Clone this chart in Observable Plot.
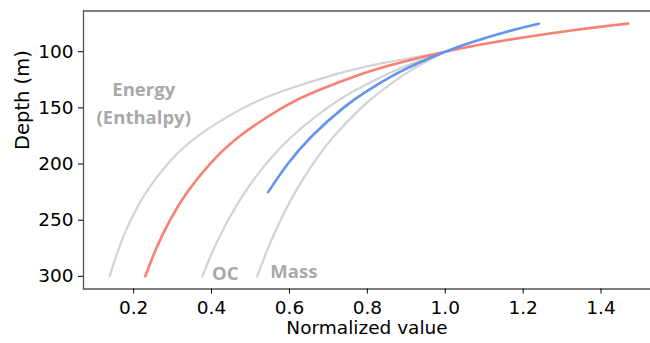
<!DOCTYPE html>
<html>
<head>
<meta charset="utf-8">
<script src="https://cdn.jsdelivr.net/npm/d3@7"></script>
<script src="https://cdn.jsdelivr.net/npm/@observablehq/plot@0.6"></script>
<style>
  html, body { margin: 0; padding: 0; background: #fff; }
  #chart svg { display: block; }
</style>
</head>
<body>
<div id="chart"></div>
<script>
// ---- data ----
const depthsFull = [100, 110, 120, 135, 150, 175, 200, 225, 250, 275, 300];
const energyValues = [1.000, 0.8424, 0.7202, 0.5826, 0.4820, 0.3652, 0.2872, 0.2323, 0.1922, 0.1619, 0.1384];
const ocValues     = [1.000, 0.9187, 0.8502, 0.7656, 0.6971, 0.6077, 0.5396, 0.4859, 0.4424, 0.4064, 0.3762];
const massValues   = [1.000, 0.9444, 0.8964, 0.8352, 0.7841, 0.7148, 0.6598, 0.6147, 0.5771, 0.5450, 0.5173];

const depthsRed = [75, 80, 90, 100, 110, 120, 135, 150, 175, 200, 225, 250, 275, 300];
const redValues = [1.4695, 1.3479, 1.1514, 1.000, 0.8803, 0.7835, 0.6693, 0.5813, 0.4729, 0.3956, 0.3379, 0.2935, 0.2583, 0.2299];

const depthsBlue = [75, 80, 90, 100, 110, 120, 135, 150, 175, 200, 225];
const blueValues = [1.2401, 1.1816, 1.0820, 1.000, 0.9312, 0.8725, 0.7989, 0.7384, 0.6580, 0.5955, 0.5452];

const xTicks = [0.2, 0.4, 0.6, 0.8, 1.0, 1.2, 1.4];
const yTicks = [100, 150, 200, 250, 300];

const labelTexts = ["Energy", "(Enthalpy)", "OC", "Mass"];
const labelX = [0.226, 0.226, 0.401, 0.551];
const labelY = [134.4, 159.4, 298.1, 296.4];
const labelAnchor = ["middle", "middle", "start", "start"];

const xTitle = "Normalized value";
const yTitle = "Depth (m)";

// ---- build tables ----
const toRows = (xs, ds) => xs.map((v, i) => ({value: v, depth: ds[i]}));
const energy = toRows(energyValues, depthsFull);
const oc = toRows(ocValues, depthsFull);
const mass = toRows(massValues, depthsFull);
const red = toRows(redValues, depthsRed);
const blue = toRows(blueValues, depthsBlue);
const labels = labelTexts.map((t, i) => ({text: t, x: labelX[i], y: labelY[i], anchor: labelAnchor[i]}));

const GRAY = "#d3d3d3";
const LABELGRAY = "#a9a9a9";
const SPINE = "#555";
const tickFont = "DejaVu Sans, sans-serif";

const chart = Plot.plot({
  width: 650,
  height: 343,
  marginLeft: 83,
  marginRight: 0,
  marginTop: 10.5,
  marginBottom: 54.5,
  style: {fontFamily: tickFont, background: "#fff"},
  x: {domain: [0.0713, 1.527], label: null},
  y: {domain: [63.75, 311.25], reverse: true, label: null},
  marks: [
    Plot.line(energy, {x: "value", y: "depth", stroke: GRAY, strokeWidth: 2.2, curve: "natural"}),
    Plot.line(oc, {x: "value", y: "depth", stroke: GRAY, strokeWidth: 2.2, curve: "natural"}),
    Plot.line(mass, {x: "value", y: "depth", stroke: GRAY, strokeWidth: 2.2, curve: "natural"}),
    Plot.line(red, {x: "value", y: "depth", stroke: "#fa8072", strokeWidth: 2.6, curve: "natural"}),
    Plot.line(blue, {x: "value", y: "depth", stroke: "#6495ed", strokeWidth: 2.6, curve: "natural"}),
    Plot.text(labels.filter(d => d.anchor === "middle"), {x: "x", y: "y", text: "text", fill: LABELGRAY, fontSize: 18.5, fontWeight: "bold", fontFamily: "Open Sans", textAnchor: "middle"}),
    Plot.text(labels.filter(d => d.anchor === "start"), {x: "x", y: "y", text: "text", fill: LABELGRAY, fontSize: 18.5, fontWeight: "bold", fontFamily: "Open Sans", textAnchor: "start"}),
    Plot.frame({anchor: "top", stroke: SPINE, strokeWidth: 1.3}),
    Plot.frame({anchor: "bottom", stroke: SPINE, strokeWidth: 1.3}),
    Plot.frame({anchor: "left", stroke: SPINE, strokeWidth: 1.3}),
    Plot.axisX({ticks: xTicks, tickFormat: d => d.toFixed(1), tickSize: 5, tickPadding: 7, fontSize: 18.5, stroke: "#000", fill: "#000", label: null}),
    Plot.axisY({ticks: yTicks, tickSize: 5, tickPadding: 5, fontSize: 18.5, stroke: "#000", fill: "#000", label: null}),
    Plot.text([xTitle], {frameAnchor: "bottom", text: d => d, dy: 39, fontSize: 18.5, fill: "#000", lineAnchor: "middle"}),
    Plot.text([yTitle], {frameAnchor: "left", text: d => d, dx: -61, rotate: -90, fontSize: 19.5, fill: "#000", lineAnchor: "middle"})
  ]
});
document.getElementById("chart").appendChild(chart);
</script>
</body>
</html>
